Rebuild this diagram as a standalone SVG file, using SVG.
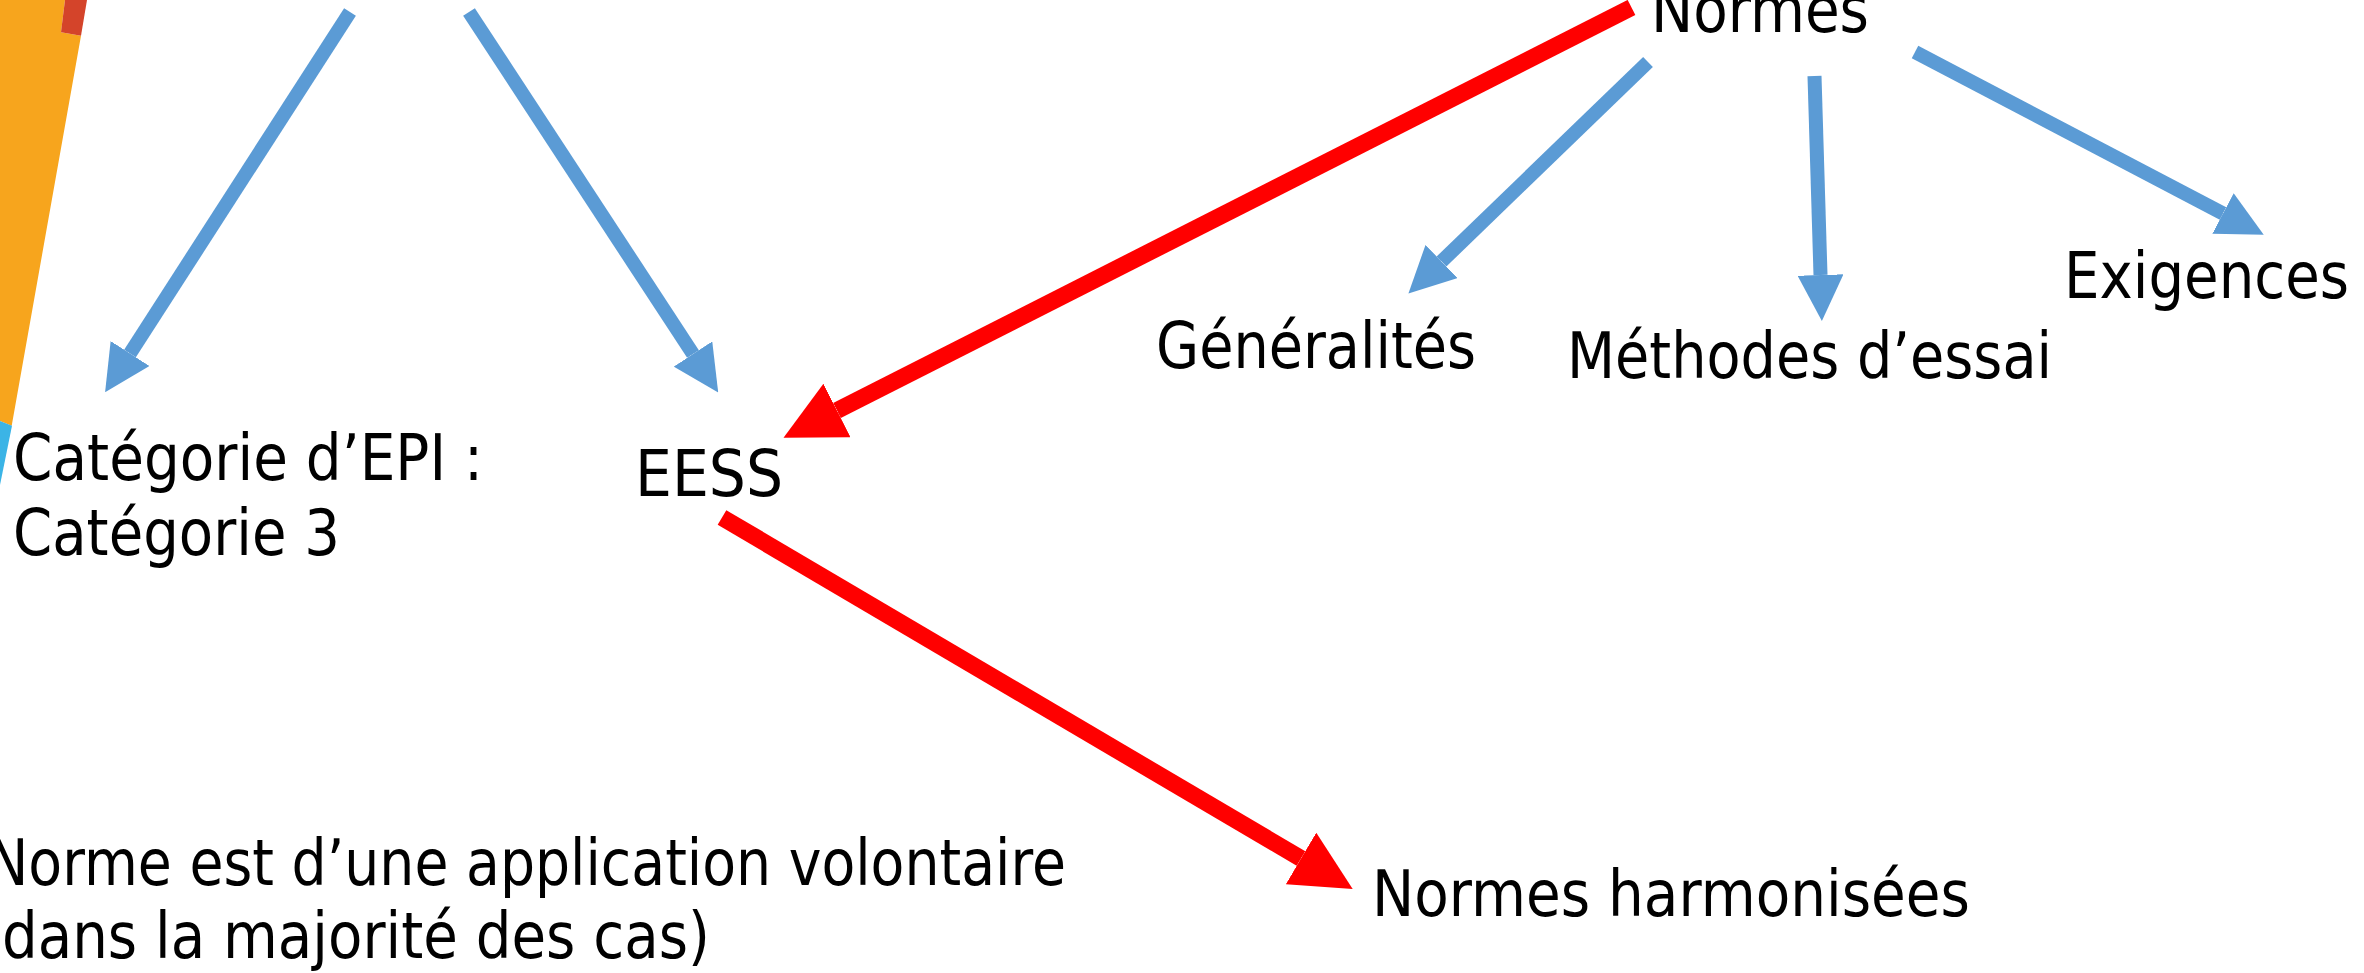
<svg xmlns="http://www.w3.org/2000/svg" width="2364" height="973" viewBox="0 0 2364 973">
  <style>
    .lbl { font-family: "DejaVu Sans", "Liberation Sans", sans-serif; font-size: 64px; fill: #000000; }
    .blue { stroke: #5B9BD5; stroke-width: 14; fill: none; }
    .red { stroke: #FF0000; stroke-width: 17; fill: none; }
  </style>
  <defs>
    <marker id="headBlue" markerUnits="userSpaceOnUse" viewBox="0 0 46 46" markerWidth="46" markerHeight="46" refX="0" refY="23" orient="auto">
      <path d="M0,0 L46,23 L0,46 z" fill="#5B9BD5"/>
    </marker>
    <marker id="headRed" markerUnits="userSpaceOnUse" viewBox="0 0 60 60" markerWidth="60" markerHeight="60" refX="0" refY="30" orient="auto">
      <path d="M0,0 L60,30 L0,60 z" fill="#FF0000"/>
    </marker>
  </defs>
  <rect width="2364" height="973" fill="#FFFFFF"/>

  <g id="decor">
    <polygon points="0,0 65,0 61,32.3 81,35.7 11.7,425.7 0,421" fill="#F7A51D"/>
    <polygon points="65,0 87,0 81,35.7 61,32.3" fill="#D4442A"/>
    <polygon points="0,421 12,425.7 0,485" fill="#3BB4E6"/>
  </g>

  <g id="connectors">
    <line class="blue" x1="350" y1="12" x2="130" y2="353.5" marker-end="url(#headBlue)"/>
    <line class="blue" x1="469" y1="12" x2="693" y2="354" marker-end="url(#headBlue)"/>
    <line class="blue" x1="1648" y1="62" x2="1441.5" y2="261.5" marker-end="url(#headBlue)"/>
    <line class="blue" x1="1814.5" y1="76" x2="1820.5" y2="275" marker-end="url(#headBlue)"/>
    <line class="blue" x1="1915" y1="52" x2="2223" y2="213.5" marker-end="url(#headBlue)"/>
    <line class="red" x1="1631.5" y1="7.5" x2="837" y2="410.5" marker-end="url(#headRed)"/>
    <line class="red" x1="722" y1="517.5" x2="1301" y2="858.5" marker-end="url(#headRed)"/>
  </g>

  <g id="node-normes">
    <text class="lbl" x="1651" y="32" textLength="218" lengthAdjust="spacingAndGlyphs">Normes</text>
  </g>
  <g id="node-generalites">
    <text class="lbl" x="1156" y="368" textLength="320" lengthAdjust="spacingAndGlyphs">Généralités</text>
  </g>
  <g id="node-methodes">
    <text class="lbl" x="1567" y="378" textLength="485" lengthAdjust="spacingAndGlyphs">Méthodes d’essai</text>
  </g>
  <g id="node-exigences">
    <text class="lbl" x="2064" y="298" textLength="285" lengthAdjust="spacingAndGlyphs">Exigences</text>
  </g>
  <g id="node-categorie">
    <text class="lbl" x="13" y="480" textLength="470" lengthAdjust="spacingAndGlyphs">Catégorie d’EPI :</text>
    <text class="lbl" x="13" y="555" textLength="327" lengthAdjust="spacingAndGlyphs">Catégorie 3</text>
  </g>
  <g id="node-eess">
    <text class="lbl" x="635" y="496" textLength="148" lengthAdjust="spacingAndGlyphs">EESS</text>
  </g>
  <g id="node-harmonisees">
    <text class="lbl" x="1372" y="916" textLength="598" lengthAdjust="spacingAndGlyphs">Normes harmonisées</text>
  </g>
  <g id="node-note">
    <text class="lbl" x="-13" y="885" textLength="1079" lengthAdjust="spacingAndGlyphs">Norme est d’une application volontaire</text>
    <text class="lbl" x="-20" y="958" textLength="730" lengthAdjust="spacingAndGlyphs">(dans la majorité des cas)</text>
  </g>
</svg>
